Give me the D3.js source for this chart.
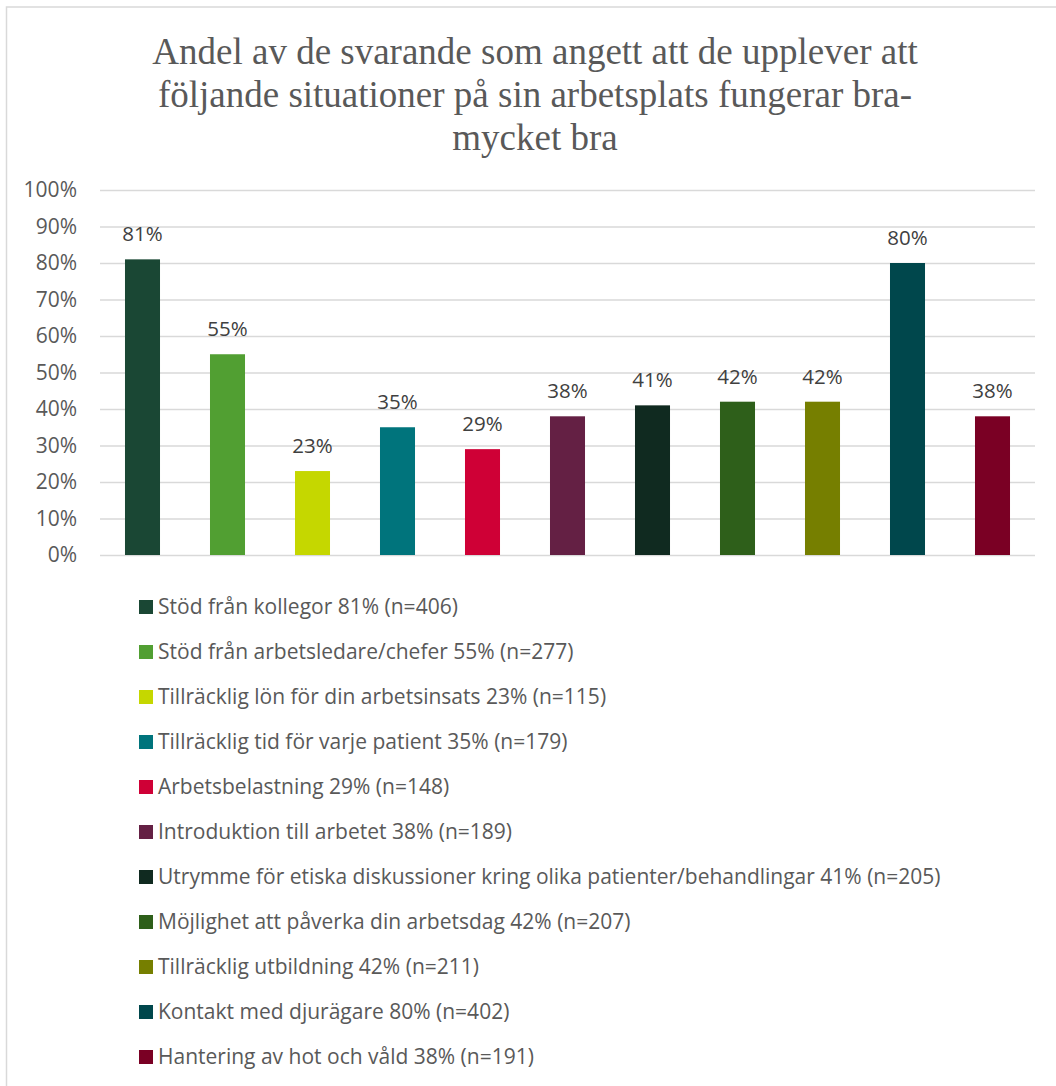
<!DOCTYPE html>
<html>
<head>
<meta charset="utf-8">
<script src="https://cdn.jsdelivr.net/npm/d3@7"></script>
<style>
  body { margin: 0; background: #fff; }
  svg { display: block; }
</style>
</head>
<body>
<svg id="chart" width="1056" height="1086"></svg>
<script>
const titleLines = [
  "Andel av de svarande som angett att de upplever att",
  "följande situationer på sin arbetsplats fungerar bra-",
  "mycket bra"
];
const categories = [
  "Stöd från kollegor",
  "Stöd från arbetsledare/chefer",
  "Tillräcklig lön för din arbetsinsats",
  "Tillräcklig tid för varje patient",
  "Arbetsbelastning",
  "Introduktion till arbetet",
  "Utrymme för etiska diskussioner kring olika patienter/behandlingar",
  "Möjlighet att påverka din arbetsdag",
  "Tillräcklig utbildning",
  "Kontakt med djurägare",
  "Hantering av hot och våld"
];
const values = [81, 55, 23, 35, 29, 38, 41, 42, 42, 80, 38];
const counts = [406, 277, 115, 179, 148, 189, 205, 207, 211, 402, 191];
const colors = [
  "#1a4734", "#519f32", "#c5d700", "#00747c", "#cf0036", "#642044",
  "#102a20", "#2e5f1a", "#767f00", "#00474c", "#7a0024"
];
const yTicks = [0, 10, 20, 30, 40, 50, 60, 70, 80, 90, 100];

const width = 1056;
const height = 1086;
const plotLeft = 100;
const plotRight = 1035;
const plotTop = 190;
const plotBottom = 555;
const sans = "'Open Sans', sans-serif";

const svg = d3.select("#chart");

// frame (only left and top edges show)
svg.append("rect")
  .attr("x", 6.5)
  .attr("y", 7)
  .attr("width", width + 10)
  .attr("height", height + 10)
  .attr("fill", "none")
  .attr("stroke", "#d9d9d9")
  .attr("stroke-width", 1.5);

// title
svg.append("text")
  .attr("x", 535)
  .attr("y", 64)
  .attr("text-anchor", "middle")
  .attr("font-family", "'Liberation Serif', 'Times New Roman', serif")
  .attr("font-size", 37)
  .attr("fill", "#595959")
  .selectAll("tspan")
  .data(titleLines)
  .enter()
  .append("tspan")
  .attr("x", 535)
  .attr("dy", (d, i) => (i === 0 ? 0 : 43))
  .text((d) => d);

const x = d3.scaleBand()
  .domain(categories)
  .range([plotLeft, plotRight])
  .paddingInner(0.588)
  .paddingOuter(0.294);

const y = d3.scaleLinear()
  .domain([0, 100])
  .range([plotBottom, plotTop]);

// gridlines + y labels
const yAxis = svg.append("g")
  .attr("transform", "translate(" + plotLeft + ",0)")
  .call(
    d3.axisLeft(y)
      .tickValues(yTicks)
      .tickSize(-(plotRight - plotLeft))
      .tickPadding(23)
      .tickFormat((d) => d + "%")
  );
yAxis.select(".domain").remove();
yAxis.selectAll(".tick line")
  .attr("stroke", "#d9d9d9")
  .attr("stroke-width", 1.5);
yAxis.selectAll(".tick text")
  .attr("fill", "#595959")
  .attr("font-family", sans)
  .attr("font-size", 21);

// bars
svg.selectAll("rect.bar")
  .data(values)
  .enter()
  .append("rect")
  .attr("class", "bar")
  .attr("x", (d, i) => x(categories[i]))
  .attr("y", (d) => y(d))
  .attr("width", x.bandwidth())
  .attr("height", (d) => y(0) - y(d))
  .attr("fill", (d, i) => colors[i]);

// data labels
svg.selectAll("text.val")
  .data(values)
  .enter()
  .append("text")
  .attr("class", "val")
  .attr("x", (d, i) => x(categories[i]) + x.bandwidth() / 2)
  .attr("y", (d) => y(d) - 18)
  .attr("text-anchor", "middle")
  .attr("font-family", sans)
  .attr("font-size", 20.5)
  .attr("fill", "#404040")
  .text((d) => d + "%");

// legend
const legendY = d3.scalePoint()
  .domain(categories)
  .range([607, 1057]);

const legend = svg.selectAll("g.legend")
  .data(categories)
  .enter()
  .append("g")
  .attr("class", "legend")
  .attr("transform", (d) => "translate(139," + legendY(d) + ")");

legend.append("rect")
  .attr("x", 0)
  .attr("y", -7)
  .attr("width", 14)
  .attr("height", 14)
  .attr("fill", (d, i) => colors[i]);

legend.append("text")
  .attr("x", 19)
  .attr("y", 0)
  .attr("dy", "0.35em")
  .attr("font-family", sans)
  .attr("font-size", 21)
  .attr("fill", "#595959")
  .text((d, i) => d + " " + values[i] + "% (n=" + counts[i] + ")");
</script>
</body>
</html>
